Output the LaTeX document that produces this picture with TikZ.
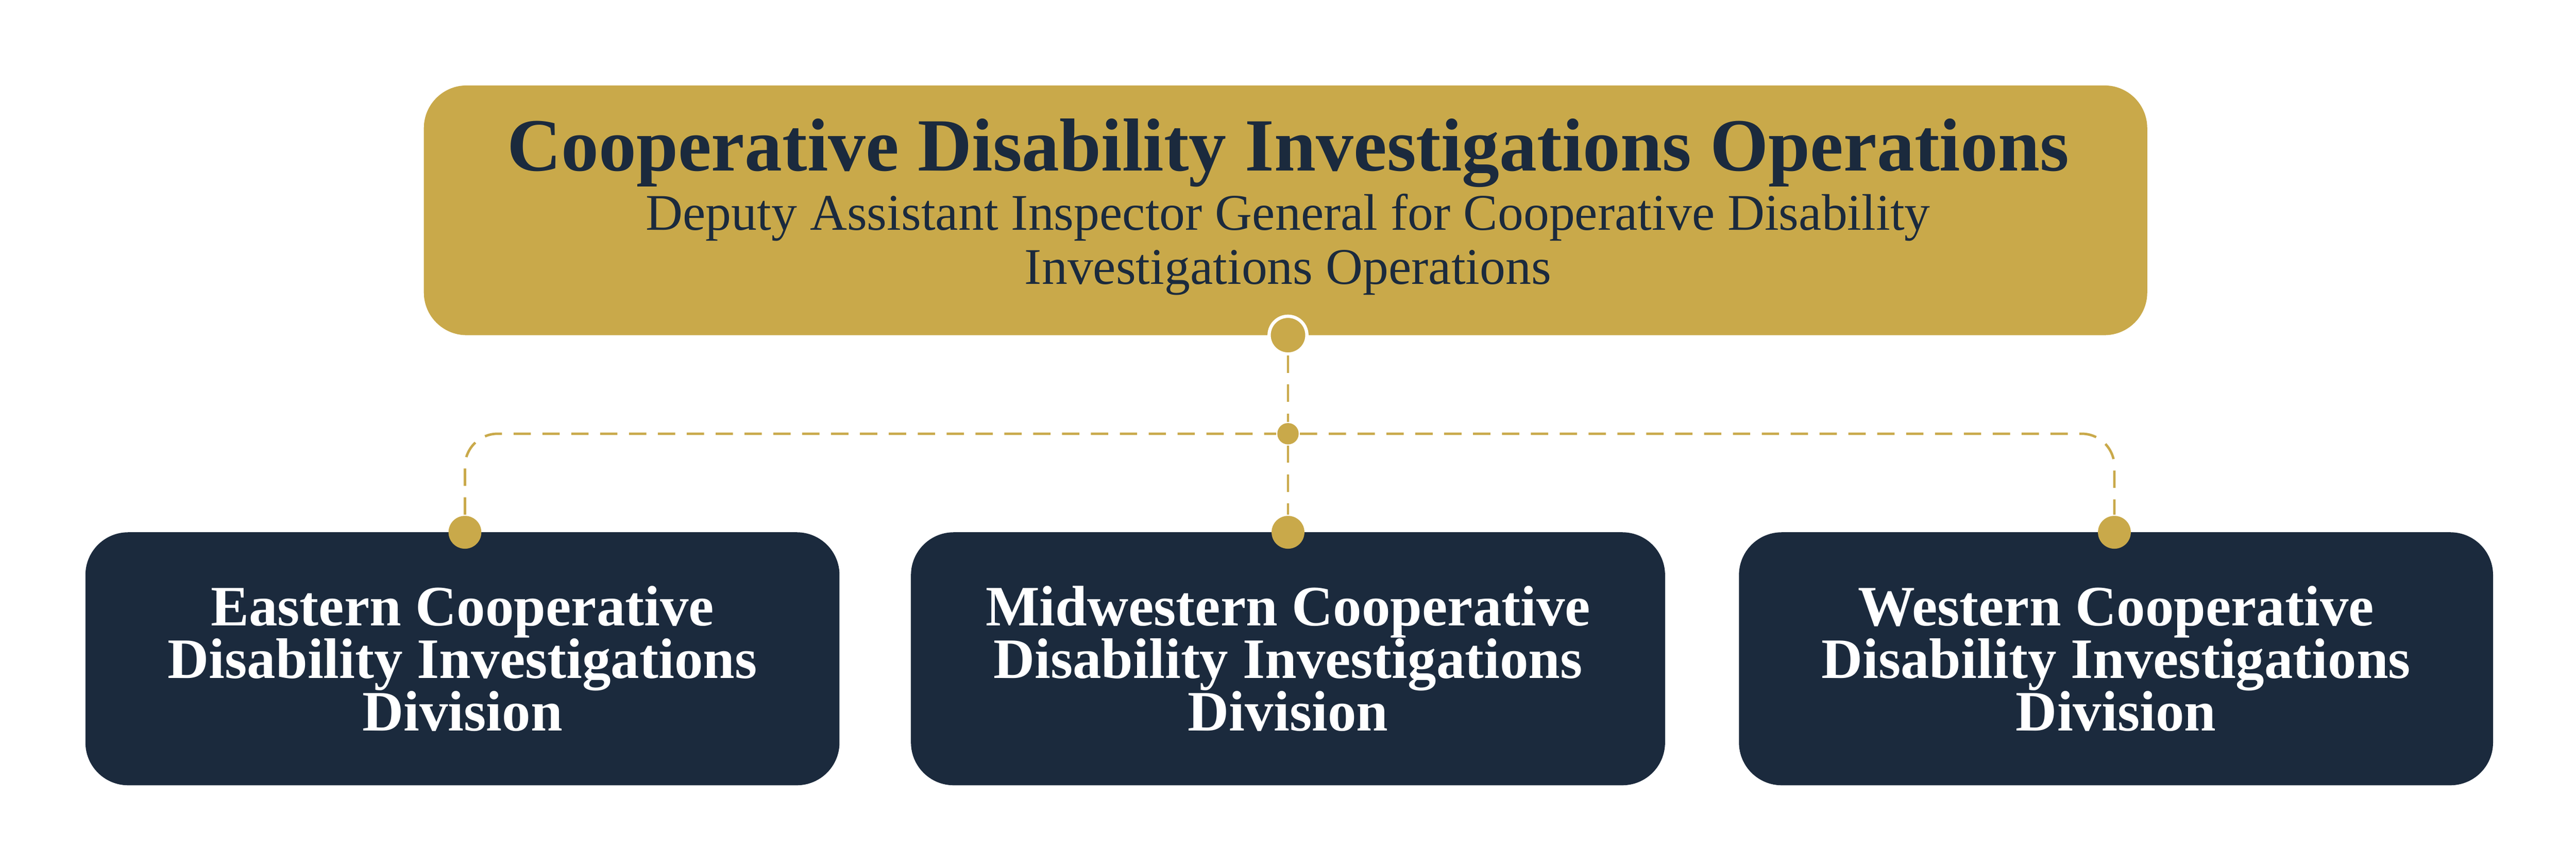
\documentclass[tikz,border=0pt]{standalone}
\usepackage{fontspec}
\setmainfont{Liberation Serif}
\definecolor{gold}{HTML}{C9A94A}
\definecolor{navy}{HTML}{1B2A3D}
\begin{document}
\begin{tikzpicture}
    [x=1mm, y=-1mm,
      headbox/.style={fill=gold, rounded corners=2.6mm, minimum width=104.9mm, minimum height=15.2mm, inner sep=0pt},
      unitbox/.style={fill=navy, rounded corners=2.6mm, minimum width=45.9mm, minimum height=15.4mm, inner sep=0pt,
        text=white, font=\bfseries\fontsize{9.9}{9.1}\selectfont, align=center},
      link/.style={gold, densely dashed, line width=0.15mm},
      dot/.style={circle, fill=gold, inner sep=0pt, minimum size=2mm},
     ]
    \useasboundingbox (0,0) rectangle (156.8,52.7);
    \node[headbox] (head) at (78.25,12.8) {};
    \node[text=navy, align=center, font=\fontsize{8.9}{9.4}\selectfont] (title) at (78.4,12.6)
      {{\bfseries\fontsize{13}{13}\selectfont Cooperative Disability Investigations Operations}\\[0.3mm]
       Deputy Assistant Inspector General for Cooperative Disability\\ Investigations Operations};
    \node[unitbox] (east) at (28.15,40.1) {Eastern Cooperative\\Disability Investigations\\Division};
    \node[unitbox] (mid) at (78.4,40.1) {Midwestern Cooperative\\Disability Investigations\\Division};
    \node[unitbox] (west) at (128.8,40.1) {Western Cooperative\\Disability Investigations\\Division};
    % connectors
    \node[dot, minimum size=2.3mm, draw=white, line width=0.2mm] (top) at (78.4,20.4) {};
    \node[dot, minimum size=1.3mm] (hub) at (78.4,26.4) {};
    \node[dot] (ein) at (28.3,32.4) {};
    \node[dot] (min) at (78.4,32.4) {};
    \node[dot] (win) at (128.7,32.4) {};
    \draw[link] (top) -- (hub) -- (min);
    \draw[link, rounded corners=2mm] (ein) |- (hub) -| (win);
\end{tikzpicture}
\end{document}
